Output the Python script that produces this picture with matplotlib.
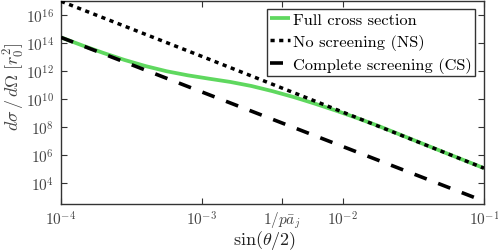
import numpy as np
import matplotlib
matplotlib.use("Agg")
import matplotlib.pyplot as plt

plt.rcParams['font.family'] = 'serif'
plt.rcParams['font.serif'] = ['cmr10']
plt.rcParams['mathtext.fontset'] = 'cm'
plt.rcParams['axes.formatter.use_mathtext'] = True
plt.rcParams['axes.unicode_minus'] = False

# log10 of sin(theta/2)
full_logs = [-4.0, -3.85, -3.7, -3.55, -3.4, -3.25, -3.1, -2.95, -2.8, -2.65,
             -2.5, -2.35, -2.2, -2.05, -1.9, -1.75, -1.5, -1.25, -1.0]
# log10 of dsigma/dOmega
full_logy = [14.40, 13.83, 13.29, 12.79, 12.35, 11.98, 11.69, 11.45, 11.22, 10.93,
             10.56, 10.14, 9.67, 9.17, 8.64, 8.08, 7.07, 6.06, 5.06]
ns_logs = [-4.0, -3.0, -2.0, -1.0]
ns_logy = [16.98, 13.04, 9.06, 5.06]
cs_logs = [-4.0, -3.0, -2.0, -1.0]
cs_logy = [14.40, 10.50, 6.60, 2.70]

xtick_vals = [1e-4, 1e-3, 10**-2.43, 1e-2, 1e-1]
xtick_labels = [r'$10^{-4}$', r'$10^{-3}$', r'$1/p\bar{a}_j$', r'$10^{-2}$', r'$10^{-1}$']
ytick_exps = [4, 6, 8, 10, 12, 14, 16]

fig = plt.figure(figsize=(4.98, 2.53), dpi=100)
ax = fig.add_axes([61/498, 1-205/253, (484-61)/498, (205-2)/253])

green = '#5fd85f'
ax.plot(10**np.array(full_logs), 10**np.array(full_logy), color=green, lw=2.7,
        solid_capstyle='butt', solid_joinstyle='round', label='Full cross section', zorder=2)
ax.plot(10**np.array(ns_logs), 10**np.array(ns_logy), color='black', lw=2.5,
        linestyle=(0, (1.2, 1.3)), label='No screening (NS)', zorder=3)
ax.plot(10**np.array(cs_logs), 10**np.array(cs_logy), color='black', lw=2.6,
        linestyle=(0, (3.6, 3.4)), label='Complete screening (CS)', zorder=3)

ax.set_xscale('log')
ax.set_yscale('log')
ax.set_xlim(1e-4, 1e-1)
ax.set_ylim(10**2.5, 10**17)

ax.set_xticks(xtick_vals)
ax.set_xticklabels(xtick_labels)
ax.xaxis.set_minor_locator(matplotlib.ticker.NullLocator())
ax.set_yticks([10.0**e for e in ytick_exps])
ax.set_yticklabels([r'$10^{%d}$' % e for e in ytick_exps])
ax.yaxis.set_minor_locator(matplotlib.ticker.NullLocator())

lab_col = '#444444'
ax.tick_params(axis='both', which='major', direction='in', top=True, right=True,
               length=4, width=0.8, colors='#333333', labelcolor=lab_col,
               labelsize=11, pad=5)
ax.tick_params(axis='x', pad=4)
for s in ax.spines.values():
    s.set_color('#333333')
    s.set_linewidth(1.0)

ax.set_xlabel(r'$\sin(\theta/2)$', fontsize=13, color='#222222')
ax.xaxis.set_label_coords((264.5-61)/423, -(241-205)/203, transform=ax.transAxes)
ax.xaxis.label.set_va('center')
ax.set_ylabel(r'$d\sigma\,/\,d\Omega\ [r_0^2]$', fontsize=13, color='#444444')
ax.yaxis.set_label_coords(-(61-14)/423, (205-87)/203, transform=ax.transAxes)
ax.yaxis.label.set_va('center')

leg = ax.legend(loc='upper right', bbox_to_anchor=((475-61)/423, (205-10)/203), fontsize=11.8,
                frameon=True, fancybox=False, framealpha=1, edgecolor='#333333',
                handlelength=1.2, handletextpad=0.2, borderpad=0.2,
                labelspacing=0.42, borderaxespad=0.0)
leg.get_frame().set_linewidth(1.0)

fig.savefig('out.png', dpi=100)
